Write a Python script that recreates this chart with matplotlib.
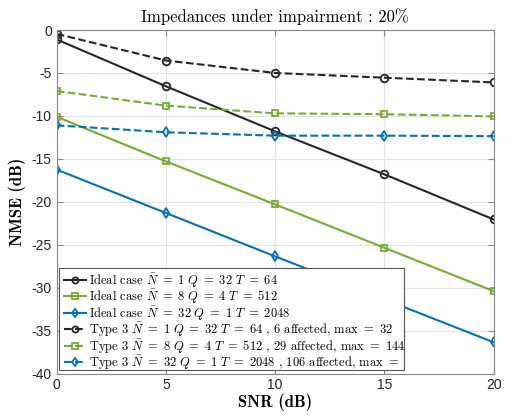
import numpy as np
import matplotlib.pyplot as plt
from matplotlib.patches import Rectangle

plt.rcParams['mathtext.fontset'] = 'cm'
plt.rcParams['axes.unicode_minus'] = False

snr = [0, 5, 10, 15, 20]

# ideal case
ideal_n1 = [-1.1, -6.55, -11.8, -16.8, -22.05]
ideal_n8 = [-10.1, -15.3, -20.3, -25.35, -30.4]
ideal_n32 = [-16.25, -21.3, -26.35, -31.35, -36.35]

# type 3 impairment
type3_n1 = [-0.45, -3.55, -5.0, -5.55, -6.1]
type3_n8 = [-7.1, -8.8, -9.7, -9.8, -10.05]
type3_n32 = [-11.1, -11.9, -12.3, -12.3, -12.35]

labels = [
    r'Ideal case $\bar{N}\ =\ 1\ Q\ =\ 32\ T\ =\ 64$',
    r'Ideal case $\bar{N}\ =\ 8\ Q\ =\ 4\ T\ =\ 512$',
    r'Ideal case $\bar{N}\ =\ 32\ Q\ =\ 1\ T\ =\ 2048$',
    r'Type 3 $\bar{N}\ =\ 1\ Q\ =\ 32\ T\ =\ 64$ , 6 affected, max $=\ 32$',
    r'Type 3 $\bar{N}\ =\ 8\ Q\ =\ 4\ T\ =\ 512$ , 29 affected, max $=\ 144$',
    r'Type 3 $\bar{N}\ =\ 32\ Q\ =\ 1\ T\ =\ 2048$ , 106 affected, max $=\ 528$',
]

black = '#262626'
green = '#77AC30'
blue = '#0072BD'

fig = plt.figure(figsize=(5.11, 4.17), dpi=100)
ax = fig.add_axes([0.111, 0.104, 0.855, 0.824])

series = [(ideal_n1, black, 'o', '-'), (ideal_n8, green, 's', '-'), (ideal_n32, blue, 'd', '-'),
          (type3_n1, black, 'o', '--'), (type3_n8, green, 's', '--'), (type3_n32, blue, 'd', '--')]
for (vals, c, m, ls), lab in zip(series, labels):
    ax.plot(snr, vals, color=c, marker=m, linestyle=ls, linewidth=1.5,
            markersize=5.5 if m != 's' else 5, markerfacecolor='none',
            markeredgewidth=1.3, label=lab)

ax.set_xlim(0, 20)
ax.set_ylim(-40, 0)
ax.set_xticks([0, 5, 10, 15, 20])
ax.set_yticks(np.arange(-40, 1, 5))
ax.grid(True, color='#e3e3e3', linewidth=0.8)
ax.set_axisbelow(True)
ax.tick_params(direction='in', top=True, right=True, length=4, color='#888888',
               labelsize=10, labelcolor='#262626')
for lab in ax.get_xticklabels() + ax.get_yticklabels():
    lab.set_family('Liberation Sans')
for s in ax.spines.values():
    s.set_color('#888888')
    s.set_linewidth(0.8)

ax.set_xlabel('SNR (dB)', family='cmb10', fontsize=12, labelpad=1)
ax.set_ylabel('NMSE (dB)', family='cmb10', fontsize=12, labelpad=4)
ax.set_title('Impedances under impairment : 20%', family='cmr10', fontsize=12, pad=6)

# legend box is narrower than the longest entry, like the matlab export
box = Rectangle((0.005, 0.012), 0.79, 0.295, transform=ax.transAxes,
                facecolor='white', edgecolor='#555555', linewidth=0.8, zorder=4.9)
ax.add_patch(box)
leg = ax.legend(loc='lower left', bbox_to_anchor=(0.005, -0.008),
                prop={'family': 'cmr10', 'size': 9},
                handlelength=1.8, handletextpad=0.2, labelspacing=-0.12, markerscale=0.8,
                borderaxespad=0.0, borderpad=0.4, frameon=False)
leg.set_zorder(5)
for t in leg.get_texts():
    t.set_clip_on(True)
    t.set_clip_path(box)

fig.savefig('out.png', dpi=100)
